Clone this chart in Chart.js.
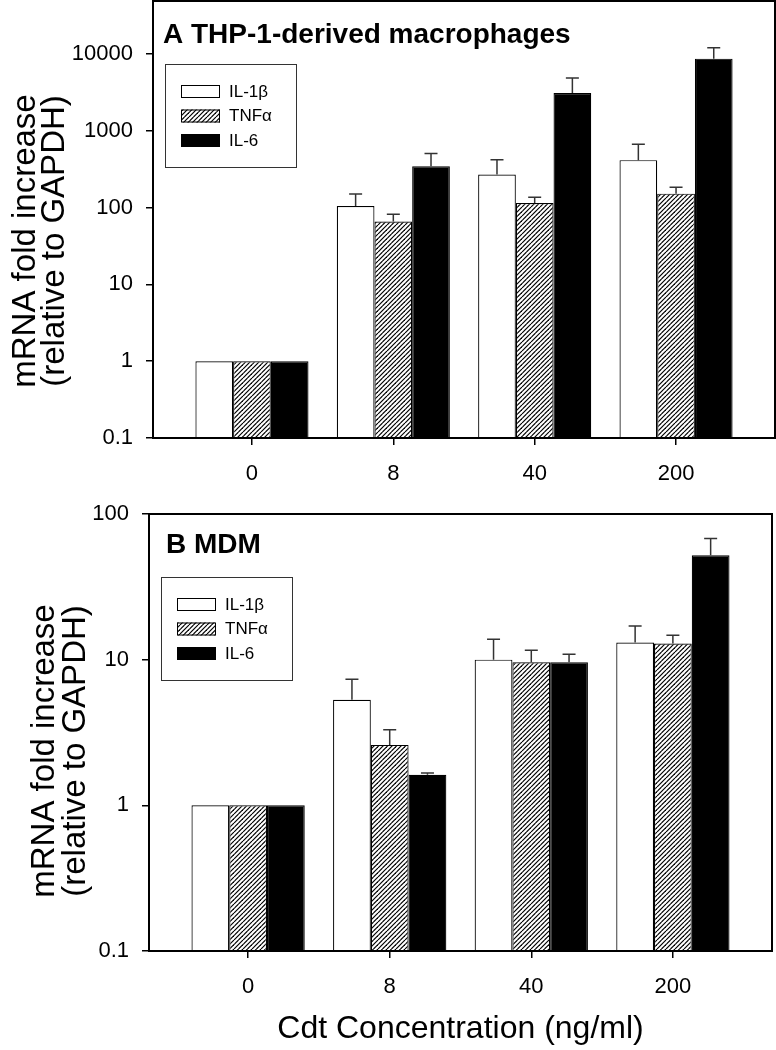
<!DOCTYPE html>
<html>
<head>
<meta charset="utf-8">
<script src="https://cdn.jsdelivr.net/npm/chart.js@4.4.1/dist/chart.umd.min.js"></script>
<style>
  body { margin: 0; background: #fff; }
  .panel { position: absolute; left: 0; }
</style>
</head>
<body>
<div class="panel" style="top:0"><canvas id="chartA" width="776" height="490"></canvas></div>
<div class="panel" style="top:490px"><canvas id="chartB" width="776" height="560"></canvas></div>
<script>
const categories = ['0', '8', '40', '200'];
const seriesNames = ['IL-1β', 'TNFα', 'IL-6'];

// panel A - THP-1-derived macrophages
const thpIL1b = [1, 105, 270, 415];
const thpIL1bErr = [0, 45, 150, 255];
const thpTNFa = [1, 66, 115, 152];
const thpTNFaErr = [0, 16, 21, 32];
const thpIL6 = [1, 345, 3100, 8700];
const thpIL6Err = [0, 160, 1770, 3400];

// panel B - MDM
const mdmIL1b = [1, 5.3, 10.0, 13.1];
const mdmIL1bErr = [0, 2.05, 3.8, 3.9];
const mdmTNFa = [1, 2.6, 9.6, 12.9];
const mdmTNFaErr = [0, 0.7, 2.0, 1.8];
const mdmIL6 = [1, 1.62, 9.6, 52];
const mdmIL6Err = [0, 0.05, 1.3, 16];

const yTicksA = [0.1, 1, 10, 100, 1000, 10000];
const yTicksB = [0.1, 1, 10, 100];

const FONT = '"Liberation Sans", Arial, Helvetica, sans-serif';
Chart.defaults.font.family = FONT;
Chart.defaults.color = '#000';

function hatch() {
  const s = 9;
  const c = document.createElement('canvas');
  c.width = s; c.height = s;
  const g = c.getContext('2d');
  g.fillStyle = '#fff';
  g.fillRect(0, 0, s, s);
  g.strokeStyle = '#000';
  g.lineWidth = 1.2;
  for (let k = -s; k <= 2 * s; k += s / 2) {
    g.beginPath();
    g.moveTo(k, s);
    g.lineTo(k + s, 0);
    g.stroke();
  }
  return g.createPattern(c, 'repeat');
}

const errorBars = {
  id: 'errorBars',
  afterDatasetsDraw(chart) {
    const ctx = chart.ctx, y = chart.scales.y;
    ctx.save();
    ctx.strokeStyle = '#333';
    ctx.lineWidth = 1.5;
    chart.data.datasets.forEach((ds, d) => {
      chart.getDatasetMeta(d).data.forEach((bar, i) => {
        const e = ds.errors[i];
        if (!e) return;
        const top = y.getPixelForValue(ds.data[i].y + e);
        ctx.beginPath();
        ctx.moveTo(bar.x, bar.y);
        ctx.lineTo(bar.x, top);
        ctx.moveTo(bar.x - 6.5, top);
        ctx.lineTo(bar.x + 6.5, top);
        ctx.stroke();
      });
    });
    ctx.restore();
  }
};

const decor = {
  id: 'decor',
  afterDraw(chart, args, o) {
    const ctx = chart.ctx, a = chart.chartArea;
    ctx.save();
    // frame
    ctx.strokeStyle = '#000';
    ctx.lineWidth = 2;
    ctx.strokeRect(a.left, a.top, a.right - a.left, a.bottom - a.top);
    // panel title
    ctx.fillStyle = '#000';
    ctx.font = 'bold 28px ' + FONT;
    ctx.textAlign = 'left';
    ctx.textBaseline = 'alphabetic';
    ctx.fillText(o.title, o.titleX, o.titleY);
    // legend
    const bx = a.left + 12, by = a.top + 63;
    ctx.lineWidth = 1;
    ctx.strokeStyle = '#333';
    ctx.strokeRect(bx + 0.5, by + 0.5, 131, 103);
    ctx.font = '17px ' + FONT;
    ctx.textBaseline = 'middle';
    chart.data.datasets.forEach((ds, i) => {
      const sx = bx + 16, sy = by + 21 + i * 24.5;
      ctx.fillStyle = ds.backgroundColor;
      ctx.fillRect(sx, sy, 39, 13);
      ctx.strokeStyle = '#000';
      ctx.strokeRect(sx + 0.5, sy + 0.5, 38, 12);
      ctx.fillStyle = '#000';
      ctx.fillText(ds.label, sx + 48, sy + 7);
    });
    // y axis title, two rotated lines
    ctx.font = '33px ' + FONT;
    ctx.textAlign = 'center';
    ctx.textBaseline = 'alphabetic';
    o.yTitle.forEach((t, i) => {
      ctx.save();
      ctx.translate(o.yTitleX[i], o.yTitleY);
      ctx.rotate(-Math.PI / 2);
      ctx.fillText(t, 0, 0);
      ctx.restore();
    });
    ctx.restore();
  }
};

function makeDatasets(vals, errs) {
  const fills = ['#ffffff', hatch(), '#000000'];
  return seriesNames.map((name, k) => ({
    label: name,
    data: categories.map((c, i) => ({ x: i, y: vals[k][i] })),
    errors: errs[k],
    backgroundColor: fills[k],
    borderColor: '#000',
    borderWidth: 1.2,
    categoryPercentage: 0.8,
    barPercentage: 1.0
  }));
}

function makeChart(id, p) {
  const tickGrid = { drawOnChartArea: false, drawTicks: true, tickLength: 7, color: '#000', lineWidth: 1.5, offset: false };
  return new Chart(document.getElementById(id), {
    type: 'bar',
    data: { datasets: makeDatasets(p.vals, p.errs) },
    options: {
      responsive: false,
      animation: false,
      events: [],
      layout: { padding: p.padding },
      plugins: {
        legend: { display: false },
        tooltip: { enabled: false },
        decor: p.decor
      },
      scales: {
        x: {
          type: 'linear',
          min: -0.7,
          max: 3.7,
          offset: false,
          afterBuildTicks: s => { s.ticks = categories.map((c, i) => ({ value: i })); },
          afterFit: s => { s.height = p.xHeight; s.paddingLeft = 0; s.paddingRight = 0; },
          ticks: { callback: v => categories[v], font: { size: 22 }, color: '#000', padding: 16, maxRotation: 0, autoSkip: false },
          grid: tickGrid,
          border: { display: false },
          title: p.xTitle
        },
        y: {
          type: 'logarithmic',
          min: 0.1,
          max: p.yMax,
          afterBuildTicks: s => { s.ticks = p.yTicks.map(v => ({ value: v })); },
          afterFit: s => { s.width = p.yWidth; s.paddingTop = 0; s.paddingBottom = 0; },
          ticks: { callback: v => String(v), font: { size: 22 }, color: '#000', padding: 13 },
          grid: tickGrid,
          border: { display: false }
        }
      }
    },
    plugins: [errorBars, decor]
  });
}

makeChart('chartA', {
  vals: [thpIL1b, thpTNFa, thpIL6],
  errs: [thpIL1bErr, thpTNFaErr, thpIL6Err],
  yTicks: yTicksA,
  yMax: 49000,
  yWidth: 153,
  xHeight: 52,
  padding: { top: 1, right: 1, left: 0, bottom: 0 },
  xTitle: { display: false },
  decor: {
    title: 'A THP-1-derived macrophages', titleX: 163, titleY: 43,
    yTitle: ['mRNA fold increase', '(relative to GAPDH)'], yTitleX: [35, 64], yTitleY: 241
  }
});

makeChart('chartB', {
  vals: [mdmIL1b, mdmTNFa, mdmIL6],
  errs: [mdmIL1bErr, mdmTNFaErr, mdmIL6Err],
  yTicks: yTicksB,
  yMax: 100,
  yWidth: 149,
  xHeight: 97,
  padding: { top: 24, right: 4, left: 0, bottom: 2 },
  xTitle: { display: true, text: 'Cdt Concentration (ng/ml)', font: { size: 32, lineHeight: 1.2 }, color: '#000', padding: 0 },
  decor: {
    title: 'B MDM', titleX: 166, titleY: 63,
    yTitle: ['mRNA fold increase', '(relative to GAPDH)'], yTitleX: [54, 85], yTitleY: 261
  }
});
</script>
</body>
</html>
